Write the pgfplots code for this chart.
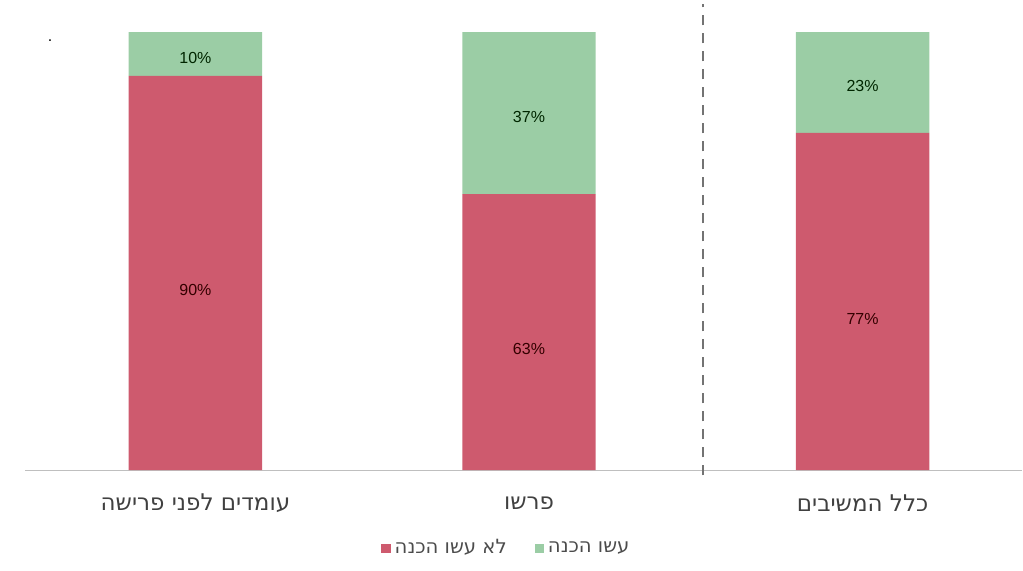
\documentclass[border=0pt]{standalone}
\usepackage{pgfplots}
\pgfplotsset{compat=1.18}
\usepackage{fontspec}
\setmainfont{Liberation Sans}
\newfontfamily\hebfont[Script=Hebrew]{DejaVu Sans}
\TeXXeTstate=1
\definecolor{redbar}{HTML}{CE5A6E}
\definecolor{greenbar}{HTML}{9BCDA5}
\begin{document}
\begin{tikzpicture}
  \begin{axis}[
    x=166.75pt, y=2.19pt,
    xmin=-0.511, xmax=2.478,
    ymin=0, ymax=107,
    ybar stacked,
    bar width=0.4,
    axis x line=bottom,
    axis y line=none,
    axis line style={-, draw=black!25, line width=0.6pt},
    xtick={0,1,2},
    major tick length=0,
    ytick=\empty,
    xticklabels={{\hebfont\beginR עומדים לפני פרישה\endR},{\hebfont\beginR פרשו\endR},{\hebfont\beginR כלל המשיבים\endR}},
    xticklabel style={font=\fontsize{11.5}{13}\selectfont, text=black!75, anchor=center, yshift=-16.5pt},
    clip=false,
    legend columns=2,
    legend style={draw=none, at={(0.5,0)}, anchor=center, yshift=-39pt, xshift=-8pt,
      font=\fontsize{9.8}{11}\selectfont, text=black!70,
      /tikz/every even column/.append style={column sep=12pt}},
    legend image code/.code={\fill[#1] (0pt,-2.3pt) rectangle (4.6pt,2.3pt);},
    /pgf/number format/assume math mode=true,
    nodes near coords={\pgfmathprintnumber{\pgfplotspointmeta}\%},
    point meta=explicit,
  ]
  % --- did not prepare (bottom) ---
  \addplot[fill=redbar, draw=none,
    every node near coord/.append style={anchor=center, font=\fontsize{8}{10}\selectfont,
      text=black!80!red, yshift=-8.5pt}]
    coordinates {(0,90)[90] (1,63)[63] (2,77)[77]};
  \addlegendentry{\hebfont\beginR לא עשו הכנה\endR}
  % --- prepared (top) ---
  \addplot[fill=greenbar, draw=none,
    every node near coord/.append style={anchor=center, font=\fontsize{8}{10}\selectfont,
      text=black!85!green, yshift=-2pt}]
    coordinates {(0,10)[10] (1,37)[37] (2,23)[23]};
  \addlegendentry{\hebfont\beginR עשו הכנה\endR}
  % --- separator ---
  \draw[black!55, line width=1pt, dash pattern=on 5pt off 4pt] (axis cs:1.522,-1.2) -- (axis cs:1.522,106.5);
  \node[font=\fontsize{8}{9}\selectfont] at (axis cs:-0.436,98) {.};
  \end{axis}
  \path ([shift={(-12.5pt,-50pt)}]current axis.south west) rectangle ([shift={(0.5pt,0.7pt)}]current axis.north east);
\end{tikzpicture}
\end{document}
